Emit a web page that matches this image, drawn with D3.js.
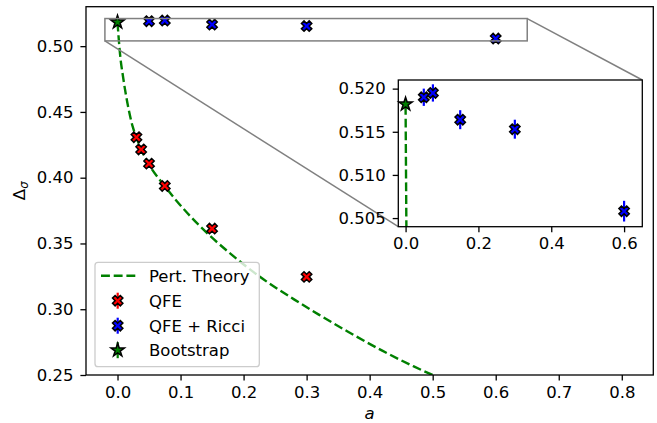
<!DOCTYPE html>
<html>
<head>
<meta charset="utf-8">
<script src="https://cdn.jsdelivr.net/npm/d3@7"></script>
<style>
  html, body { margin: 0; padding: 0; background: #fff; }
  svg { display: block; }
  text { font-family: "DejaVu Sans", sans-serif; fill: #000; }
</style>
</head>
<body>
<svg id="chart" width="657" height="423"></svg>
<script>
// ---------------- data ----------------
const pertA = [0, 0.004, 0.009, 0.016, 0.024, 0.03, 0.0375, 0.05, 0.075, 0.11, 0.145, 0.18, 0.205, 0.24, 0.28, 0.32, 0.365, 0.42, 0.47, 0.5];
const pertD = [0.518, 0.494, 0.476, 0.456, 0.439, 0.4305, 0.4215, 0.410, 0.3935, 0.3735, 0.3566, 0.3419, 0.3322, 0.3199, 0.3075, 0.2957, 0.2831, 0.2685, 0.2565, 0.2500];

const qfeA = [0.03, 0.0375, 0.05, 0.075, 0.15, 0.3];
const qfeD = [0.4308, 0.4215, 0.4107, 0.3937, 0.3613, 0.3246];
const qfeErr = [0.001, 0.001, 0.001, 0.001, 0.001, 0.001];

const ricciA = [0.05, 0.075, 0.15, 0.3, 0.6];
const ricciD = [0.5190, 0.5195, 0.5164, 0.5153, 0.5058];
const ricciErr = [0.0010, 0.0010, 0.0011, 0.0011, 0.0012];

const bootA = [0];
const bootD = [0.5182];
const bootErr = [0.0003];

const xTicks = [0.0, 0.1, 0.2, 0.3, 0.4, 0.5, 0.6, 0.7, 0.8];
const yTicks = [0.25, 0.30, 0.35, 0.40, 0.45, 0.50];
const insetXTicks = [0.0, 0.2, 0.4, 0.6];
const insetYTicks = [0.505, 0.510, 0.515, 0.520];

const legendLabels = ["Pert. Theory", "QFE", "QFE + Ricci", "Bootstrap"];

const GREEN = "#008000", RED = "#ff0000", BLUE = "#0000ff";
const FS = 16.5;

// ---------------- layout ----------------
const svg = d3.select("#chart");
const M = {left: 86, right: 653.3, top: 6.7, bottom: 375};
const x = d3.scaleLinear().domain([-0.05, 0.85]).range([M.left, M.right]);
const y = d3.scaleLinear().domain([0.25, 0.53]).range([M.bottom, M.top]);

const I = {left: 398.3, right: 642.3, top: 80, bottom: 226.7};
const xi = d3.scaleLinear().domain([-0.02, 0.65]).range([I.left, I.right]);
const yi = d3.scaleLinear().domain([0.504, 0.521]).range([I.bottom, I.top]);

const defs = svg.append("defs");
defs.append("clipPath").attr("id", "clipMain").append("rect")
  .attr("x", M.left).attr("y", M.top).attr("width", M.right - M.left).attr("height", M.bottom - M.top);
defs.append("clipPath").attr("id", "clipInset").append("rect")
  .attr("x", I.left).attr("y", I.top).attr("width", I.right - I.left).attr("height", I.bottom - I.top);

// markers
function xPath(ms) {
  const pts = [[-1,-3],[-1,-1],[-3,-1],[-3,1],[-1,1],[-1,3],[1,3],[1,1],[3,1],[3,-1],[1,-1],[1,-3]];
  const c = Math.SQRT1_2;
  return "M" + pts.map(([a,b]) => {
    const rx = (a - b) * c, ry = (a + b) * c;
    return [rx / 6 * ms, ry / 6 * ms].join(",");
  }).join("L") + "Z";
}
function starPath(r) {
  const ri = r * 0.381966;
  const pts = [];
  for (let i = 0; i < 10; i++) {
    const ang = -Math.PI / 2 + i * Math.PI / 5;
    const rr = i % 2 === 0 ? r : ri;
    pts.push([rr * Math.cos(ang), rr * Math.sin(ang)]);
  }
  return "M" + pts.map(p => p.join(",")).join("L") + "Z";
}
const X_MS = 11, STAR_R = 7;

function drawSeries(g, sx, sy, A, D, E, color, kind) {
  const data = A.map((a, i) => ({a, d: D[i], e: E[i]}));
  g.selectAll(null).data(data).enter().append("line")
    .attr("x1", d => sx(d.a)).attr("x2", d => sx(d.a))
    .attr("y1", d => sy(d.d - d.e)).attr("y2", d => sy(d.d + d.e))
    .attr("stroke", color).attr("stroke-width", 2.2);
  g.selectAll(null).data(data).enter().append("path")
    .attr("d", kind === "x" ? xPath(X_MS) : starPath(STAR_R))
    .attr("transform", d => `translate(${sx(d.a)},${sy(d.d)})`)
    .attr("fill", color).attr("stroke", "#000").attr("stroke-width", 1.5)
    .attr("stroke-linejoin", "miter");
}

const pertData = pertA.map((a, i) => ({a, d: pertD[i]}));

// ---------------- main axes ----------------
const main = svg.append("g");
main.append("rect").attr("x", M.left).attr("y", M.top)
  .attr("width", M.right - M.left).attr("height", M.bottom - M.top).attr("fill", "#fff");

const lineMain = d3.line().x(d => x(d.a)).y(d => y(d.d)).curve(d3.curveMonotoneX);
const plotMain = main.append("g").attr("clip-path", "url(#clipMain)");
plotMain.append("path").datum(pertData).attr("d", lineMain)
  .attr("fill", "none").attr("stroke", GREEN).attr("stroke-width", 2.4)
  .attr("stroke-dasharray", "8.9,3.8");

// zoom indicator rect
const zx0 = x(xi.domain()[0]), zx1 = x(xi.domain()[1]);
const zy0 = y(yi.domain()[1]), zy1 = y(yi.domain()[0]);
main.append("rect").attr("x", zx0).attr("y", zy0).attr("width", zx1 - zx0).attr("height", zy1 - zy0)
  .attr("fill", "none").attr("stroke", "#808080").attr("stroke-width", 1.5);
// connectors
main.append("line").attr("x1", zx0).attr("y1", zy1).attr("x2", I.left).attr("y2", I.bottom)
  .attr("stroke", "#808080").attr("stroke-width", 1.5);
main.append("line").attr("x1", zx1).attr("y1", zy0).attr("x2", I.right).attr("y2", I.top)
  .attr("stroke", "#808080").attr("stroke-width", 1.5);

drawSeries(plotMain, x, y, qfeA, qfeD, qfeErr, RED, "x");
drawSeries(plotMain, x, y, ricciA, ricciD, ricciErr, BLUE, "x");
drawSeries(plotMain, x, y, bootA, bootD, bootErr, GREEN, "star");

// axes
function styleAxis(g) {
  g.select(".domain").remove();
  g.selectAll(".tick line").attr("stroke", "#000").attr("stroke-width", 1.3);
  g.selectAll(".tick text").attr("font-size", FS).attr("font-family", "DejaVu Sans");
}
main.append("g").attr("transform", `translate(0,${M.bottom})`)
  .call(d3.axisBottom(x).tickValues(xTicks).tickFormat(d3.format(".1f")).tickSize(5.6).tickPadding(5.4))
  .call(styleAxis);
main.append("g").attr("transform", `translate(${M.left},0)`)
  .call(d3.axisLeft(y).tickValues(yTicks).tickFormat(d3.format(".2f")).tickSize(5.6).tickPadding(7))
  .call(styleAxis);
main.append("rect").attr("x", M.left).attr("y", M.top)
  .attr("width", M.right - M.left).attr("height", M.bottom - M.top)
  .attr("fill", "none").attr("stroke", "#000").attr("stroke-width", 1.3);

// axis labels
svg.append("text").attr("x", (M.left + M.right) / 2).attr("y", 418.5)
  .attr("text-anchor", "middle").attr("font-size", FS).attr("font-style", "italic").text("a");
const yl = svg.append("text").attr("transform", `translate(25,${(M.top + M.bottom) / 2}) rotate(-90)`)
  .attr("text-anchor", "middle").attr("font-size", FS);
yl.append("tspan").text("Δ");
yl.append("tspan").attr("font-style", "italic").attr("font-size", FS * 0.7).attr("dy", 3).text("σ");

// ---------------- legend ----------------
const lg = svg.append("g");
lg.append("rect").attr("x", 95).attr("y", 262.3).attr("width", 164.3).attr("height", 104.4)
  .attr("rx", 3).attr("fill", "#fff").attr("fill-opacity", 0.8)
  .attr("stroke", "#cccccc").attr("stroke-width", 1.3);
const rowY = [275.7, 300.7, 325.7, 350.2];
lg.append("line").attr("x1", 101).attr("x2", 136).attr("y1", rowY[0]).attr("y2", rowY[0])
  .attr("stroke", GREEN).attr("stroke-width", 2.4).attr("stroke-dasharray", "8.9,3.8");
[[RED, "x"], [BLUE, "x"], [GREEN, "star"]].forEach(([c, k], i) => {
  const yy = rowY[i + 1];
  lg.append("line").attr("x1", 117.7).attr("x2", 117.7).attr("y1", yy - 8).attr("y2", yy + 8)
    .attr("stroke", c).attr("stroke-width", 2.2);
  lg.append("path").attr("d", k === "x" ? xPath(X_MS) : starPath(STAR_R))
    .attr("transform", `translate(117.7,${yy})`)
    .attr("fill", c).attr("stroke", "#000").attr("stroke-width", 1.5);
});
legendLabels.forEach((t, i) => {
  lg.append("text").attr("x", 149).attr("y", rowY[i]).attr("dy", "0.36em")
    .attr("font-size", FS).text(t);
});

// ---------------- inset ----------------
const inset = svg.append("g");
inset.append("rect").attr("x", I.left).attr("y", I.top)
  .attr("width", I.right - I.left).attr("height", I.bottom - I.top).attr("fill", "#fff");
const plotInset = inset.append("g").attr("clip-path", "url(#clipInset)");
const lineInset = d3.line().x(d => xi(d.a)).y(d => yi(d.d)).curve(d3.curveMonotoneX);
plotInset.append("path").datum(pertData).attr("d", lineInset)
  .attr("fill", "none").attr("stroke", GREEN).attr("stroke-width", 2.4)
  .attr("stroke-dasharray", "8.9,3.8");
const insetMarks = inset.append("g");
drawSeries(insetMarks, xi, yi, ricciA, ricciD, ricciErr, BLUE, "x");
drawSeries(insetMarks, xi, yi, bootA, bootD, bootErr, GREEN, "star");

inset.append("g").attr("transform", `translate(0,${I.bottom})`)
  .call(d3.axisBottom(xi).tickValues(insetXTicks).tickFormat(d3.format(".1f")).tickSize(5.6).tickPadding(5.4))
  .call(styleAxis);
inset.append("g").attr("transform", `translate(${I.left},0)`)
  .call(d3.axisLeft(yi).tickValues(insetYTicks).tickFormat(d3.format(".3f")).tickSize(5.6).tickPadding(7))
  .call(styleAxis);
inset.append("rect").attr("x", I.left).attr("y", I.top)
  .attr("width", I.right - I.left).attr("height", I.bottom - I.top)
  .attr("fill", "none").attr("stroke", "#000").attr("stroke-width", 1.3);
</script>
</body>
</html>
